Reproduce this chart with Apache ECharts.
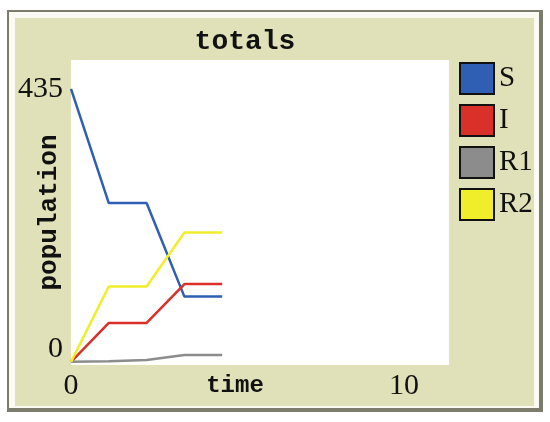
<!DOCTYPE html>
<html>
<head>
<meta charset="utf-8">
<script src="https://cdn.jsdelivr.net/npm/echarts@6/dist/echarts.min.js"></script>
<style>
  html, body { margin: 0; padding: 0; background: #fff; }
  #chart { width: 550px; height: 422px; }
</style>
</head>
<body>
<div id="chart"></div>
<script>
// plot data
const times = [0, 1, 2, 3, 4];
const seriesNames = ['S', 'I', 'R1', 'R2'];
const sValues = [435, 253, 253, 104, 104];
const iValues = [0, 62, 62, 124, 124];
const r1Values = [0, 1, 3, 11, 11];
const r2Values = [0, 120, 120, 206, 206];
const yTicks = [0, 435];
const xTicks = [0, 10];

const colors = ['#2f5fb3', '#d9302a', '#8c8c8c', '#f0ee2a'];
const beige = '#e0e0b9';

let myChart = echarts.init(document.getElementById('chart'), null, { renderer: 'canvas' });

function _zip(a, b) {
  return a.map((v, i) => [v, b[i]]);
}

const allValues = [sValues, iValues, r1Values, r2Values];
let seriesDatas = seriesNames.map((name, k) => {
  return {
    name: name,
    type: 'line',
    showSymbol: false,
    symbol: 'none',
    smooth: false,
    color: colors[k],
    lineStyle: { color: colors[k], width: 2.5 },
    emphasis: { disabled: true },
    data: _zip(times, allValues[k]),
  };
});

const option = {
  animation: false,
  backgroundColor: '#fff',
  graphic: [
    // outer frame
    { type: 'rect', z: -10, shape: { x: 7, y: 10, width: 536, height: 402 }, style: { fill: '#7c7c6c' } },
    { type: 'rect', z: -10, shape: { x: 9, y: 12, width: 530, height: 396 }, style: { fill: '#fbfbf4' } },
    { type: 'rect', z: -10, shape: { x: 15, y: 18, width: 519, height: 388 }, style: { fill: beige } },
  ],
  title: {
    text: 'totals',
    left: 245,
    top: 28,
    padding: 0,
    textAlign: 'center',
    textStyle: {
      fontFamily: 'Liberation Mono',
      fontWeight: 'bold',
      fontSize: 28,
      color: '#111'
    }
  },
  legend: {
    orient: 'vertical',
    left: 459,
    top: 62,
    padding: 0,
    itemWidth: 34,
    itemHeight: 31,
    itemGap: 9,
    icon: 'rect',
    selectedMode: false,
    itemStyle: { borderColor: '#111', borderWidth: 2 },
    textStyle: {
      fontFamily: 'Liberation Serif',
      fontSize: 29,
      color: '#111'
    },
    data: seriesNames
  },
  grid: {
    show: true,
    backgroundColor: '#fff',
    borderWidth: 0,
    outerBoundsMode: 'none',
    containLabel: false,
    left: 71,
    top: 60,
    width: 378,
    height: 305
  },
  xAxis: {
    type: 'value',
    min: 0,
    max: 10,
    axisLine: { show: false },
    axisTick: { show: false },
    splitLine: { show: false },
    axisLabel: {
      customValues: xTicks,
      margin: 6,
      fontFamily: 'Liberation Serif',
      fontSize: 30,
      color: '#111',
      formatter: function (v) {
        return v === xTicks[xTicks.length - 1] ? '{far|' + v + '}' : '{near|' + v + '}';
      },
      rich: {
        near: { fontFamily: 'Liberation Serif', fontSize: 30, color: '#111' },
        far: { fontFamily: 'Liberation Serif', fontSize: 30, color: '#111', padding: [0, 90, 0, 0] }
      }
    },
    name: 'time',
    nameLocation: 'middle',
    nameMoveOverlap: false,
    nameGap: 9,
    nameTextStyle: {
      fontFamily: 'Liberation Mono',
      fontWeight: 'bold',
      fontSize: 24,
      color: '#111',
      padding: [0, 50, 0, 0]
    }
  },
  yAxis: {
    type: 'value',
    min: -5,
    max: 481,
    axisLine: { show: false },
    axisTick: { show: false },
    splitLine: { show: false },
    axisLabel: {
      customValues: yTicks,
      margin: 8,
      fontFamily: 'Liberation Serif',
      fontSize: 30,
      color: '#111',
      formatter: function (v) {
        return v === yTicks[0] ? '{low|' + v + '}' : '{high|' + v + '}';
      },
      rich: {
        low: { fontFamily: 'Liberation Serif', fontSize: 30, color: '#111', padding: [0, 0, 26, 0] },
        high: { fontFamily: 'Liberation Serif', fontSize: 30, color: '#111' }
      }
    },
    name: 'population',
    nameLocation: 'middle',
    nameMoveOverlap: false,
    nameGap: 9,
    nameTextStyle: {
      fontFamily: 'Liberation Mono',
      fontWeight: 'bold',
      fontSize: 26,
      color: '#111'
    }
  },
  series: seriesDatas
};
myChart.setOption(option, true);
</script>
</body>
</html>
